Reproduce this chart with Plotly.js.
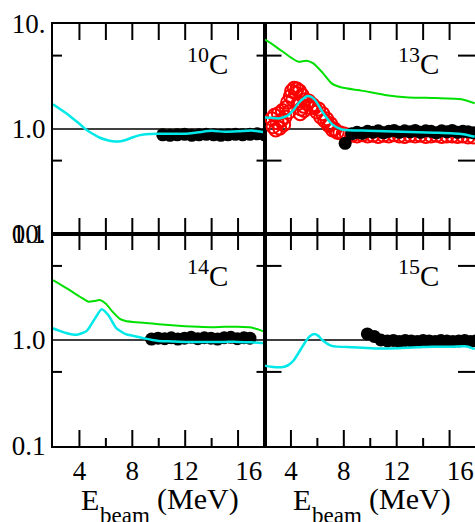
<!DOCTYPE html>
<html><head><meta charset="utf-8">
<script src="https://cdn.plot.ly/plotly-3.0.1.min.js"></script>
<style>html,body{margin:0;padding:0;background:#fff;}</style>
</head><body>
<div id="chart" style="width:475px;height:522px;"></div>
<script>
// ---------- data ----------
var panelIso = ['10', '13', '14', '15'];
var panelElem = 'C';
var xLabelVals = [4, 8, 12, 16.8];
var xLabelText = ['4', '8', '12', '16'];
var xAllTicks = [4, 6, 8, 10, 12, 14, 16];
var xMajorTicks = [4, 8, 12, 16];
var xMinorTicks = [6, 10, 14];
var yLabelVals = [0.1, 1, 10];
var yLabelText = ['0.1', '1.0', '10.'];
var yMinorTicks = [0.5, 5];
var xTitleMain = 'E', xTitleSub = 'beam', xTitleUnit = '(MeV)';

// 10C
var c10CyanX = [2, 2.5, 3, 3.5, 4, 4.5, 5, 5.5, 6, 6.5, 7, 7.5, 8, 8.5, 9, 10, 11, 12, 13, 14, 15, 16, 17, 17.5, 18];
var c10CyanY = [1.72, 1.56, 1.41, 1.26, 1.12, 0.99, 0.9, 0.83, 0.79, 0.765, 0.76, 0.785, 0.83, 0.87, 0.89, 0.9, 0.9, 0.9, 0.93, 0.96, 0.94, 0.95, 0.97, 0.95, 0.93];
var c10DataX = [10.3, 10.85, 11.4, 11.95, 12.5, 13.05, 13.6, 14.15, 14.7, 15.25, 15.8, 16.35, 16.9, 17.45, 18.0];
var c10DataY = [0.88, 0.87, 0.88, 0.89, 0.87, 0.88, 0.89, 0.88, 0.87, 0.88, 0.89, 0.88, 0.89, 0.9, 0.88];

// 13C
var c13GreenX = [2.0, 2.2, 3.0, 3.55, 4.1, 4.56, 5.19, 5.69, 6.33, 7.08, 7.84, 9.35, 11.1, 12.9, 14.9, 16.9, 17.9];
var c13GreenY = [7.1, 6.9, 5.9, 5.26, 4.7, 4.37, 4.47, 4.22, 3.51, 2.72, 2.48, 2.32, 2.11, 2.0, 1.97, 1.92, 1.76];
var c13CyanX = [2.0, 2.5, 3.05, 3.5, 3.8, 4.2, 4.56, 5.0, 5.27, 5.5, 5.82, 6.45, 7.08, 7.84, 9.85, 12.4, 14.9, 16.9, 17.9];
var c13CyanY = [1.29, 1.28, 1.26, 1.3, 1.36, 1.52, 1.76, 1.98, 2.06, 2.03, 1.89, 1.41, 1.12, 0.99, 0.964, 0.943, 0.922, 0.896, 0.845];
var c13RedX = [2.55, 2.65, 2.75, 2.85, 2.95, 3.05, 3.15, 3.25, 3.35, 3.45, 3.55, 3.65, 3.75, 3.85, 3.95, 4.05, 4.15, 4.25, 4.35, 4.45, 4.55, 4.65, 4.7, 4.75, 4.85, 4.95, 5.0, 5.05, 5.2, 5.35, 5.5, 5.65, 5.8, 5.95, 6.1, 6.25, 6.4, 6.55, 6.7, 6.85, 7.0, 7.15, 7.3, 7.5, 7.7, 7.95, 8.2,
  8.6, 9.0, 9.4, 9.8, 10.2, 10.6, 11.0, 11.4, 11.8, 12.2, 12.6, 13.0, 13.4, 13.8, 14.2, 14.6, 15.0, 15.4, 15.8, 16.2, 16.6, 17.0, 17.4, 17.8];
var c13RedY = [1.25, 1.05, 1.35, 0.98, 1.15, 1.4, 1.02, 1.2, 1.5, 1.1, 1.3, 1.6, 1.8, 1.45, 2.05, 2.3, 1.9, 2.45, 2.2, 2.4, 1.75, 2.3, 1.4, 1.55, 2.1, 1.65, 1.5, 1.9, 1.75, 1.85, 1.6, 1.7, 1.6, 1.45, 1.55, 1.3, 1.4, 1.2, 1.25, 1.08, 1.12, 0.98, 1.0, 0.93, 0.92, 0.9, 0.88,
  0.87, 0.86, 0.88, 0.86, 0.87, 0.85, 0.87, 0.86, 0.88, 0.86, 0.85, 0.87, 0.86, 0.87, 0.85, 0.86, 0.87, 0.85, 0.86, 0.86, 0.85, 0.86, 0.84, 0.84];
var c13DataX = [8.1, 8.6, 9.0, 9.4, 9.8, 10.2, 10.6, 11.0, 11.4, 11.8, 12.2, 12.6, 13.0, 13.4, 13.8, 14.2, 14.6, 15.0, 15.4, 15.8, 16.2, 16.6, 17.0, 17.4, 17.8];
var c13DataY = [0.73, 0.9, 0.93, 0.91, 0.95, 0.93, 0.96, 0.92, 0.95, 0.97, 0.93, 0.96, 0.94, 0.97, 0.93, 0.96, 0.95, 0.92, 0.96, 0.94, 0.97, 0.93, 0.95, 0.94, 0.92];

// 14C
var c14GreenX = [2.0, 3.05, 4.04, 4.67, 5.1, 5.55, 6.0, 6.5, 7.06, 7.5, 8.07, 9.0, 10, 11, 12, 13, 14, 15, 16, 17, 17.5, 18];
var c14GreenY = [3.68, 3.07, 2.56, 2.3, 2.33, 2.38, 2.2, 1.85, 1.58, 1.51, 1.48, 1.45, 1.41, 1.38, 1.35, 1.33, 1.32, 1.33, 1.33, 1.31, 1.26, 1.2];
var c14CyanX = [2.0, 2.5, 3.05, 3.8, 4.55, 5.18, 5.68, 6.18, 6.8, 7.55, 8.0, 8.56, 9.0, 9.5, 10, 11, 12, 13, 14, 15, 16, 17, 18];
var c14CyanY = [1.29, 1.22, 1.16, 1.12, 1.22, 1.6, 1.95, 1.72, 1.29, 1.13, 1.1, 1.06, 1.03, 1.0, 0.98, 0.97, 0.96, 0.96, 0.96, 0.96, 0.96, 0.95, 0.93];
var c14DataX = [9.45, 9.95, 10.45, 10.95, 11.45, 11.95, 12.45, 12.95, 13.45, 13.95, 14.45, 14.95, 15.45, 15.95, 16.45, 16.9];
var c14DataY = [1.02, 1.04, 1.03, 1.05, 1.02, 1.04, 1.06, 1.03, 1.05, 1.04, 1.02, 1.05, 1.06, 1.03, 1.05, 1.04];

// 15C
var c15CyanX = [2.0, 2.5, 3.05, 3.5, 3.8, 4.2, 4.56, 5.19, 5.5, 5.77, 6.05, 6.37, 7.08, 8.6, 11.0, 13.6, 14.7, 16.2, 17.3, 17.9];
var c15CyanY = [0.573, 0.56, 0.552, 0.56, 0.58, 0.64, 0.75, 1.0, 1.1, 1.14, 1.1, 1.0, 0.88, 0.855, 0.83, 0.853, 0.865, 0.865, 0.87, 0.82];
var c15DataX = [9.78, 10.3, 10.8, 11.3, 11.75, 12.2, 12.65, 13.1, 13.55, 14.0, 14.45, 14.9, 15.35, 15.8, 16.25, 16.7, 17.15, 17.6, 18.0];
var c15DataY = [1.14, 1.08, 1.0, 0.98, 0.99, 0.97, 0.99, 0.98, 0.97, 0.99, 0.98, 0.97, 0.99, 0.98, 0.97, 0.98, 0.99, 0.97, 0.98];

// ---------- styling / layout ----------
var W = 475, H = 522;
var FONT = 'Liberation Serif, Times New Roman, serif';
var CYAN = '#00e8e8', GREEN = '#00e000', RED = '#ff0000';
function px(x) { return x / W; }
function py(y) { return 1 - y / H; }

var xL = [px(53), px(264.5)], xR = [px(264.5), 1];
var yT = [py(234), py(24)], yB = [py(446), py(234)];
var xRangeL = [2, 18], xRangeR = [2, 2 + (475 - 264.5) / 13.22];
var panelW = {L: 211.5, R: 210.5}, panelH = {T: 210, B: 212};

function line(x, y, color, width, xa, ya) {
  return {x: x, y: y, type: 'scatter', mode: 'lines', xaxis: xa, yaxis: ya,
    line: {color: color, width: width, shape: 'spline', smoothing: 0.6}, hoverinfo: 'skip'};
}
function dots(x, y, xa, ya) {
  return {x: x, y: y, type: 'scatter', mode: 'markers', xaxis: xa, yaxis: ya,
    marker: {color: '#000', size: 13, line: {width: 0}}, hoverinfo: 'skip'};
}
function open(x, y, xa, ya) {
  return {x: x, y: y, type: 'scatter', mode: 'markers', xaxis: xa, yaxis: ya,
    marker: {color: RED, size: 13, symbol: 'circle-open', line: {width: 2, color: RED}}, hoverinfo: 'skip'};
}

var data = [
  dots(c10DataX, c10DataY, 'x', 'y'),
  line(c10CyanX, c10CyanY, CYAN, 2.5, 'x', 'y'),
  open(c13RedX, c13RedY, 'x2', 'y2'),
  dots(c13DataX, c13DataY, 'x2', 'y2'),
  line(c13GreenX, c13GreenY, GREEN, 2, 'x2', 'y2'),
  line(c13CyanX, c13CyanY, CYAN, 2.5, 'x2', 'y2'),
  dots(c14DataX, c14DataY, 'x3', 'y3'),
  line(c14GreenX, c14GreenY, GREEN, 2, 'x3', 'y3'),
  line(c14CyanX, c14CyanY, CYAN, 2.5, 'x3', 'y3'),
  dots(c15DataX, c15DataY, 'x4', 'y4'),
  line(c15CyanX, c15CyanY, CYAN, 2.5, 'x4', 'y4')
];

var tickFont = {family: FONT, size: 27, color: '#000'};

function xAxis(domain, range, anchor, labels) {
  var a = {domain: domain, range: range, anchor: anchor, showgrid: false, zeroline: false,
    showline: true, linecolor: '#000', linewidth: 2, mirror: true, ticks: '', tickmode: 'array'};
  if (labels) { a.tickvals = xLabelVals; a.ticktext = xLabelText; a.tickfont = tickFont; }
  else { a.tickvals = []; a.showticklabels = false; }
  return a;
}
function yAxis(domain, anchor, labels) {
  var a = {domain: domain, anchor: anchor, type: 'log', range: [-1, 1], showgrid: false, zeroline: false,
    showline: true, linecolor: '#000', linewidth: 2, mirror: true, ticks: '', tickmode: 'array'};
  if (labels) { a.tickvals = yLabelVals; a.ticktext = yLabelText; a.tickfont = tickFont; }
  else { a.tickvals = []; a.showticklabels = false; }
  return a;
}

// reference line at 1.0 and inward tick marks, placed through the axes' own scales
var shapes = [];
function refLine(xa, ya) {
  shapes.push({type: 'line', xref: xa + ' domain', yref: ya, x0: 0, x1: 1, y0: 1, y1: 1,
    line: {color: '#000', width: 1.5}, layer: 'below'});
}
function xTick(xa, ya, v, atTop, lenPx, hPx) {
  var f = lenPx / hPx;
  shapes.push({type: 'line', xref: xa, yref: ya + ' domain', x0: v, x1: v,
    y0: atTop ? 1 : 0, y1: atTop ? 1 - f : f, line: {color: '#000', width: 2}, layer: 'above'});
}
function yTick(xa, ya, v, atRight, lenPx, wPx) {
  var f = lenPx / wPx;
  shapes.push({type: 'line', xref: xa + ' domain', yref: ya, y0: v, y1: v,
    x0: atRight ? 1 : 0, x1: atRight ? 1 - f : f, line: {color: '#000', width: 2}, layer: 'above'});
}
function panel(xa, ya, bottomRow, leftCol) {
  var h = bottomRow ? panelH.B : panelH.T, w = leftCol ? panelW.L : panelW.R;
  refLine(xa, ya);
  xAllTicks.forEach(function (v) { xTick(xa, ya, v, true, 16, h); });
  if (bottomRow) {
    xMajorTicks.forEach(function (v) { xTick(xa, ya, v, false, 16, h); });
    xMinorTicks.forEach(function (v) { xTick(xa, ya, v, false, 8, h); });
  } else {
    xAllTicks.forEach(function (v) { xTick(xa, ya, v, false, 16, h); });
  }
  yMinorTicks.forEach(function (v) {
    yTick(xa, ya, v, false, leftCol ? 9 : 17, w);
    yTick(xa, ya, v, true, leftCol ? 8 : 17, w);
  });
}
panel('x', 'y', false, true);
panel('x2', 'y2', false, false);
panel('x3', 'y3', true, true);
panel('x4', 'y4', true, false);

var labelPos = [[230, 82], [441, 82], [230, 294], [441, 294]];
var annotations = panelIso.map(function (t, i) {
  return {text: '<sup><span style="font-size:22px">' + t + '</span></sup>' + panelElem,
    xref: 'paper', yref: 'paper', x: px(labelPos[i][0]), y: py(labelPos[i][1]),
    xanchor: 'right', yanchor: 'bottom', showarrow: false,
    font: {family: FONT, size: 29, color: '#000'}};
});
[0, 211.5].forEach(function (off) {
  annotations.push({text: xTitleMain, xref: 'paper', yref: 'paper', x: px(79 + off), y: py(518),
    xanchor: 'left', yanchor: 'bottom', showarrow: false, font: {family: FONT, size: 30, color: '#000'}});
  annotations.push({text: xTitleSub, xref: 'paper', yref: 'paper', x: px(98 + off), y: py(530),
    xanchor: 'left', yanchor: 'bottom', showarrow: false, font: {family: FONT, size: 23, color: '#000'}});
  annotations.push({text: xTitleUnit, xref: 'paper', yref: 'paper', x: px(155 + off), y: py(518),
    xanchor: 'left', yanchor: 'bottom', showarrow: false, font: {family: FONT, size: 30, color: '#000'}});
});

var layout = {
  width: W, height: H, margin: {l: 0, r: 0, t: 0, b: 0}, showlegend: false,
  paper_bgcolor: '#fff', plot_bgcolor: '#fff',
  xaxis: xAxis(xL, xRangeL, 'y', false),
  xaxis2: xAxis(xR, xRangeR, 'y2', false),
  xaxis3: xAxis(xL, xRangeL, 'y3', true),
  xaxis4: xAxis(xR, xRangeR, 'y4', true),
  yaxis: yAxis(yT, 'x', true),
  yaxis2: yAxis(yT, 'x2', false),
  yaxis3: yAxis(yB, 'x3', true),
  yaxis4: yAxis(yB, 'x4', false),
  shapes: shapes,
  annotations: annotations
};

Plotly.newPlot('chart', data, layout, {displayModeBar: false});
</script></body></html>
